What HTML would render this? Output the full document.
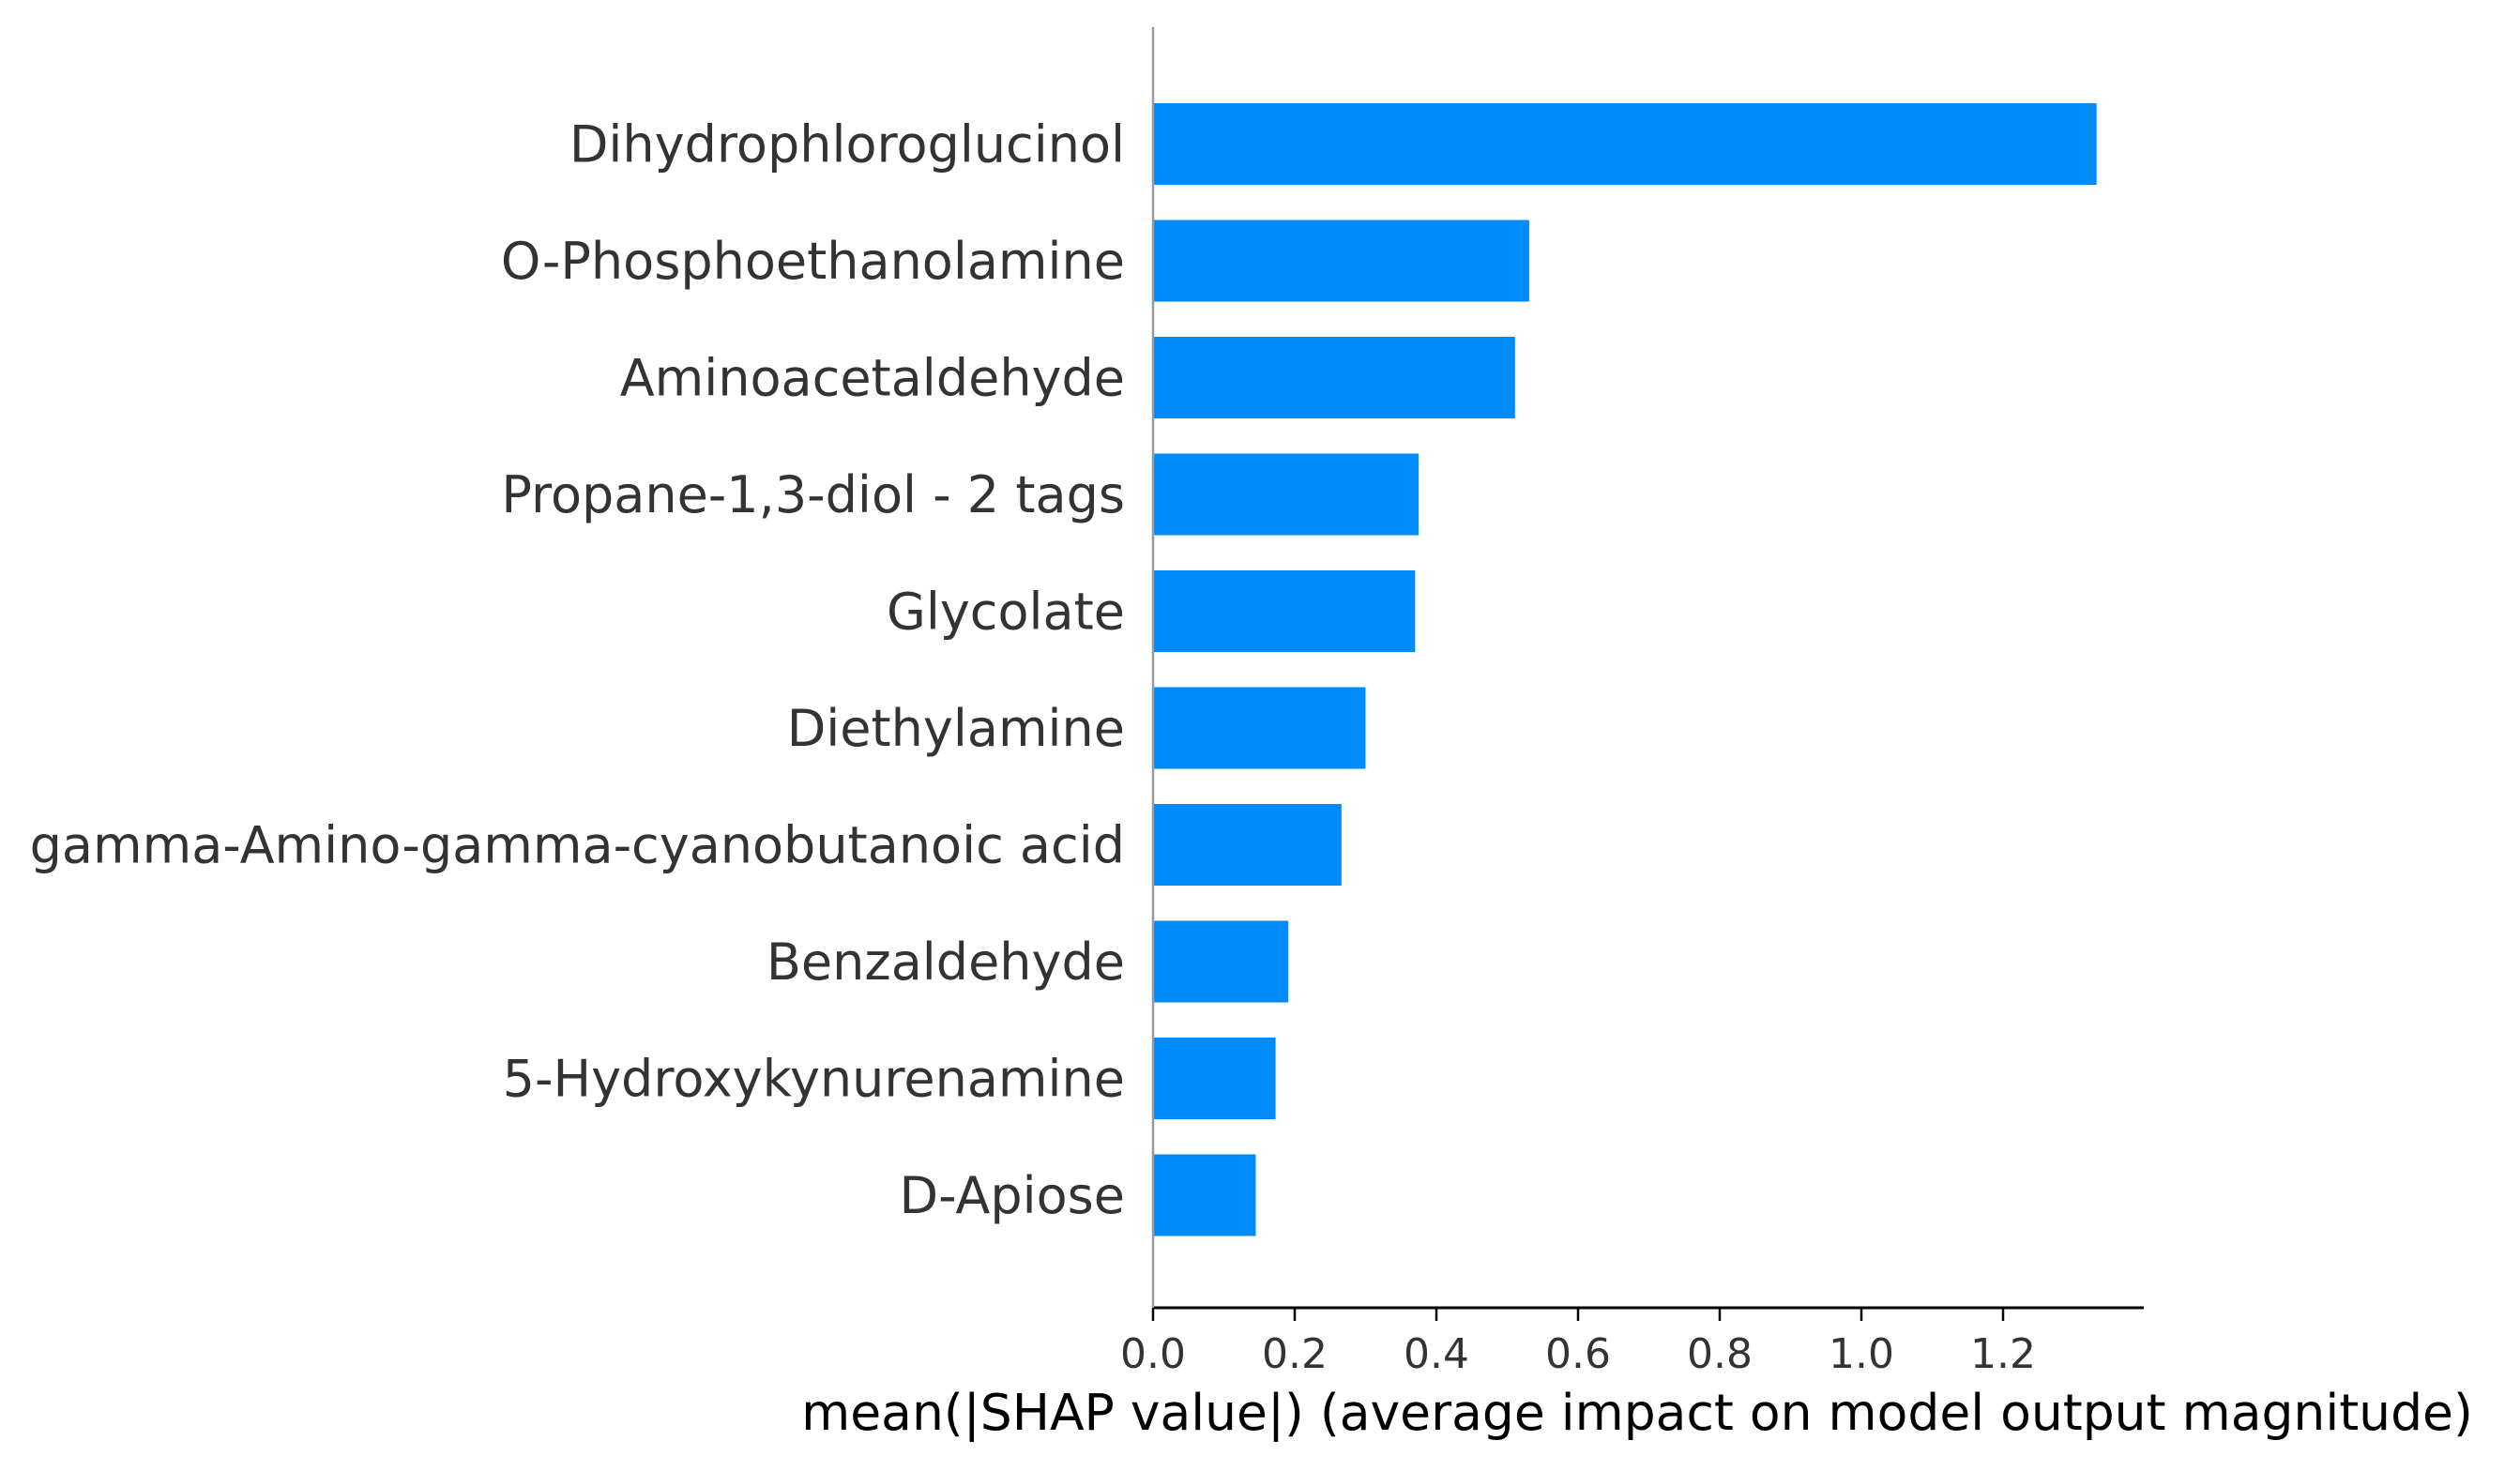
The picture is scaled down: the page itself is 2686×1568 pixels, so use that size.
<!DOCTYPE html>
<html><head><meta charset="utf-8"><style>
html,body{margin:0;padding:0;background:#fff;}
svg{display:block;font-family:"DejaVu Sans","Liberation Sans",sans-serif;}
</style></head><body>
<svg id="chart" width="2686" height="1568" viewBox="0 0 2686 1568" xmlns="http://www.w3.org/2000/svg">
<g id="bars"></g>
<g id="ylabels"></g>
<g id="xaxis"></g>
<line x1="1229" y1="29" x2="1229" y2="1394" stroke="#999" stroke-width="2.5"/>
<text x="1745" y="1524" font-size="53.5" text-anchor="middle" fill="#000">mean(|SHAP value|) (average impact on model output magnitude)</text>
</svg>
<script>
const features = ["Dihydrophloroglucinol","O-Phosphoethanolamine","Aminoacetaldehyde","Propane-1,3-diol - 2 tags","Glycolate","Diethylamine","gamma-Amino-gamma-cyanobutanoic acid","Benzaldehyde","5-Hydroxykynurenamine","D-Apiose"];
const values = [1.332,0.531,0.511,0.375,0.370,0.300,0.266,0.191,0.173,0.145];
const xTicks = [0,0.2,0.4,0.6,0.8,1.0,1.2];
const xTickLabels = ["0.0","0.2","0.4","0.6","0.8","1.0","1.2"];

const NS="http://www.w3.org/2000/svg";
const x0=1229, pxPerUnit=755;
const xScale=v=>x0+v*pxPerUnit;
const yTop=153.5, step=124.5, barH=87;
const yScale=i=>yTop+i*step;
function mk(tag,attrs,parent){const e=document.createElementNS(NS,tag);for(const k in attrs)e.setAttribute(k,attrs[k]);parent.appendChild(e);return e;}
const gb=document.getElementById('bars'), gl=document.getElementById('ylabels'), gx=document.getElementById('xaxis');
features.forEach((f,i)=>{
  const r=mk('rect',{x:xScale(0),y:yScale(i)-barH/2,width:xScale(values[i])-xScale(0),height:barH,fill:'#008bfb'},gb);
  
  
  const t=mk('text',{x:1199,y:yScale(i)+19,'font-size':54,'text-anchor':'end',fill:'#333'},gl);
  t.textContent=f;
  
  
});
const ax=mk('line',{x1:xScale(0)-1,y1:1394,x2:2285,y2:1394,stroke:'#000','stroke-width':3},gx);


xTicks.forEach((v,i)=>{
  const tk=mk('line',{x1:xScale(v),y1:1394,x2:xScale(v),y2:1408,stroke:'#000','stroke-width':2.5},gx);
  
  
  const tl=mk('text',{x:xScale(v),y:1458,'font-size':44,'text-anchor':'middle',fill:'#333'},gx);
  tl.textContent=xTickLabels[i];
  
  
});
</script>
</body></html>
